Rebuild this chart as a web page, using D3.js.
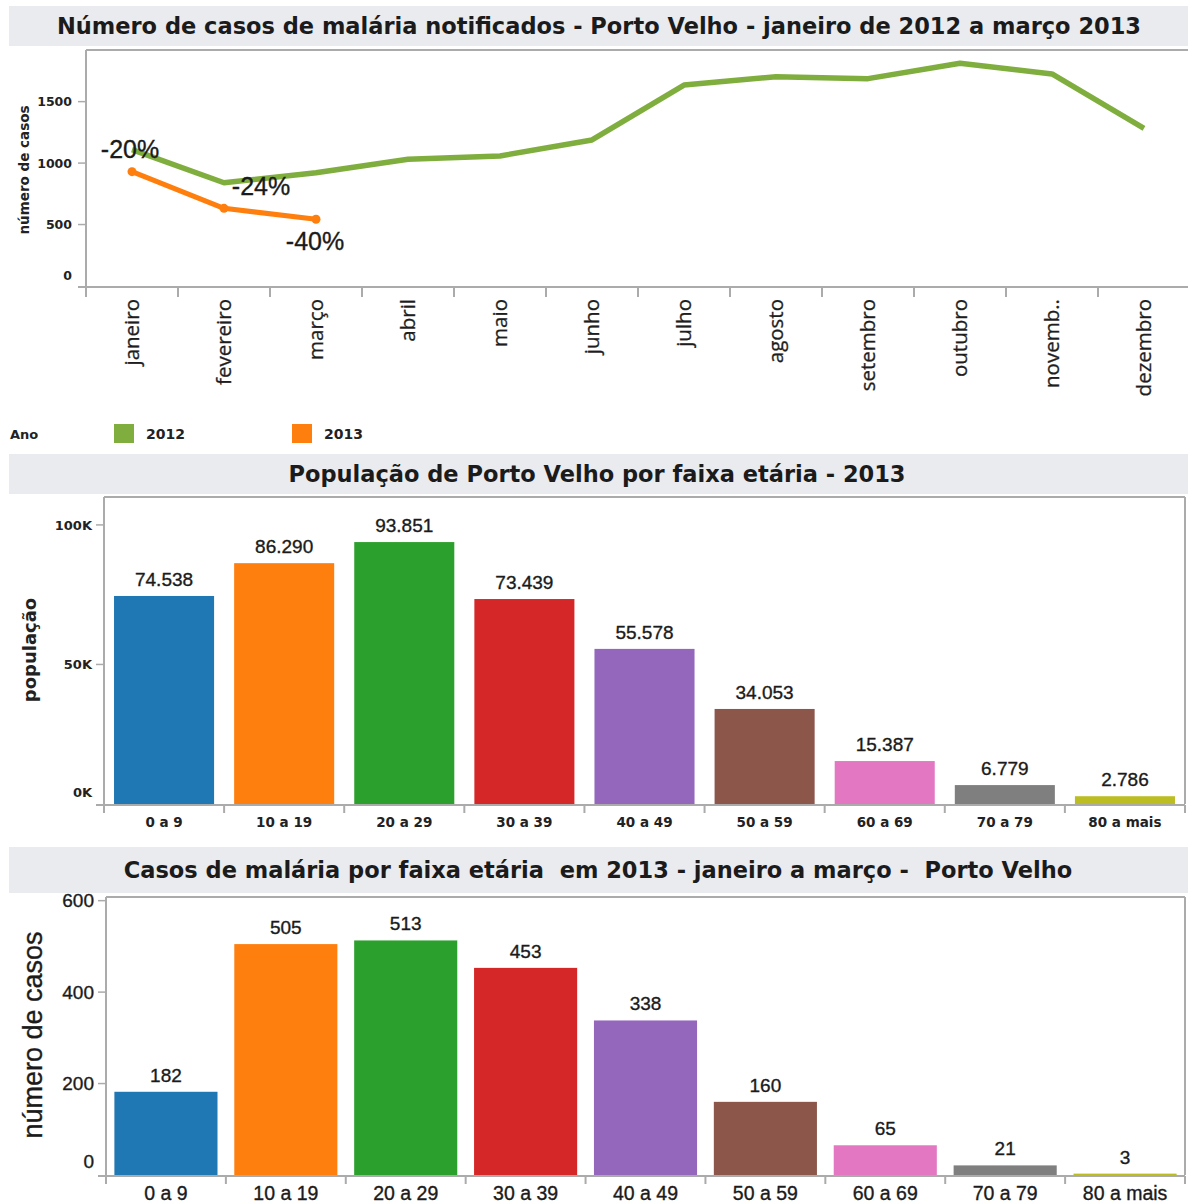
<!DOCTYPE html>
<html lang="pt">
<head>
<meta charset="utf-8">
<script src="https://cdn.jsdelivr.net/npm/d3@7"></script>
<style>
  html, body { margin: 0; padding: 0; background: #fff; }
  svg { display: block; }
  .title { font-family: "DejaVu Sans", sans-serif; font-weight: 700; font-size: 22.5px; fill: #1b1b1b; }
  .tickS { font-family: "DejaVu Sans", sans-serif; font-weight: 700; fill: #222; }
  .num { font-family: "Liberation Sans", Arial, sans-serif; fill: #1b1b1b; stroke: #1b1b1b; stroke-width: 0.35px; }
</style>
</head>
<body>
<svg id="chart" width="1188" height="1204"></svg>
<script>
// Monthly notified malaria cases, Porto Velho
const months = ["janeiro", "fevereiro", "março", "abril", "maio", "junho",
                "julho", "agosto", "setembro", "outubro", "novemb..", "dezembro"];
const cases2012 = [1110, 840, 922, 1031, 1058, 1188, 1635, 1703, 1687, 1812, 1725, 1283];
const cases2013 = [930, 632, 543];
const changeLabels = ["-20%", "-24%", "-40%"];
const caseTicks = [0, 500, 1000, 1500];
const years = ["2012", "2013"];

// Age groups
const ageGroups = ["0 a 9", "10 a 19", "20 a 29", "30 a 39", "40 a 49",
                   "50 a 59", "60 a 69", "70 a 79", "80 a mais"];
const population = [74538, 86290, 93851, 73439, 55578, 34053, 15387, 6779, 2786];
const popTicks = [0, 50000, 100000];
const ageCases = [182, 505, 513, 453, 338, 160, 65, 21, 3];
const ageCaseTicks = [0, 200, 400, 600];

const yearColor = d3.scaleOrdinal(years, ["#7fae3e", "#ff7f0e"]);
const ageColor = d3.scaleOrdinal(ageGroups, d3.schemeCategory10);
const ptBR = d3.formatLocale({ decimal: ",", thousands: ".", grouping: [3], currency: ["R$", ""] });
const fmtThousands = ptBR.format(",d");

const svg = d3.select("#chart");
svg.append("rect").attr("width", 1188).attr("height", 1204).attr("fill", "#fff");

const FRAME = "#ababab";

function titleBand(y, h, text, cx) {
  svg.append("rect").attr("x", 9).attr("y", y).attr("width", 1179).attr("height", h).attr("fill", "#e9ebef");
  svg.append("text").attr("class", "title")
    .attr("x", cx).attr("y", y + h / 2).attr("dy", "0.36em")
    .attr("text-anchor", "middle").attr("xml:space", "preserve").text(text);
}

// ---------- Line chart: cases by month ----------
titleBand(6, 40, "Número de casos de malária notificados - Porto Velho - janeiro de 2012 a março 2013", 599);

const xM = d3.scaleBand().domain(months).range([86, 1190]).padding(0);
const yM = d3.scaleLinear().domain([0, 1920]).range([286, 50]);
const mx = m => xM(m) + xM.bandwidth() / 2;

const g1 = svg.append("g");
g1.append("line").attr("x1", 86).attr("x2", 1188).attr("y1", 50).attr("y2", 50).attr("stroke", FRAME).attr("stroke-width", 2);
g1.append("line").attr("x1", 86).attr("x2", 86).attr("y1", 50).attr("y2", 287).attr("stroke", FRAME).attr("stroke-width", 2);
g1.append("line").attr("x1", 78).attr("x2", 1188).attr("y1", 287).attr("y2", 287).attr("stroke", FRAME).attr("stroke-width", 2);

// month boundary ticks
g1.selectAll(".mtick").data(months).join("line")
  .attr("x1", d => xM(d)).attr("x2", d => xM(d))
  .attr("y1", 287).attr("y2", 297).attr("stroke", FRAME).attr("stroke-width", 2);

// y ticks
g1.selectAll(".ytick").data(caseTicks.filter(t => t > 0)).join("line")
  .attr("x1", 78).attr("x2", 86).attr("y1", d => yM(d)).attr("y2", d => yM(d))
  .attr("stroke", FRAME).attr("stroke-width", 1.5);
g1.selectAll(".ylab").data(caseTicks).join("text")
  .attr("class", "tickS").attr("font-size", 12.5)
  .attr("x", 72).attr("y", d => d === 0 ? yM(d) - 11 : yM(d)).attr("dy", "0.36em")
  .attr("text-anchor", "end").text(d => d);

g1.append("text").attr("class", "tickS").attr("font-size", 13.5)
  .attr("transform", "translate(24,170) rotate(-90)").attr("text-anchor", "middle")
  .attr("dy", "0.36em").text("número de casos");

// month labels
g1.selectAll(".mlab").data(months).join("text")
  .attr("font-family", "'Open Sans', sans-serif").attr("font-size", 20.5).attr("fill", "#1e1e1e")
  .attr("stroke", "#1e1e1e").attr("stroke-width", 0.3)
  .attr("transform", d => `translate(${mx(d)},299) rotate(-90)`)
  .attr("text-anchor", "end").attr("dy", "0.36em").text(d => d);

const line = d3.line().x(d => mx(d.m)).y(d => yM(d.v));
const s2012 = cases2012.map((v, i) => ({ m: months[i], v }));
const s2013 = cases2013.map((v, i) => ({ m: months[i], v }));

g1.append("path").datum(s2012).attr("d", line).attr("fill", "none")
  .attr("stroke", yearColor("2012")).attr("stroke-width", 5.5).attr("stroke-linejoin", "round");
g1.append("path").datum(s2013).attr("d", line).attr("fill", "none")
  .attr("stroke", yearColor("2013")).attr("stroke-width", 5).attr("stroke-linejoin", "round");
g1.selectAll(".dot").data(s2013).join("circle")
  .attr("cx", d => mx(d.m)).attr("cy", d => yM(d.v)).attr("r", 4.5).attr("fill", yearColor("2013"));

// year-over-year change labels beside the 2013 points
const changeOffsets = [[-2, -23], [37, -22], [-1, 22]];
g1.selectAll(".chg").data(s2013).join("text")
  .attr("class", "num").attr("font-size", 25)
  .attr("x", (d, i) => mx(d.m) + changeOffsets[i][0])
  .attr("y", (d, i) => yM(d.v) + changeOffsets[i][1]).attr("dy", "0.36em")
  .attr("text-anchor", "middle").text((d, i) => changeLabels[i]);

// legend
const lg = svg.append("g");
lg.append("text").attr("class", "tickS").attr("font-size", 13).attr("x", 10).attr("y", 434).attr("dy", "0.36em").text("Ano");
const legendX = [114, 292];
years.forEach((yr, i) => {
  lg.append("rect").attr("x", legendX[i]).attr("y", 424).attr("width", 20).attr("height", 19).attr("fill", yearColor(yr));
  lg.append("text").attr("class", "tickS").attr("font-size", 14).attr("x", legendX[i] + 32).attr("y", 434)
    .attr("dy", "0.36em").text(yr);
});

// ---------- Bar charts ----------
function barChart(opt) {
  const g = svg.append("g");
  const x = d3.scaleBand().domain(ageGroups).range([opt.left, opt.right])
    .paddingInner(opt.pad).paddingOuter(opt.pad / 2);
  const y = d3.scaleLinear().domain([0, opt.max]).range([opt.bottom, opt.top]);

  g.append("line").attr("x1", opt.left).attr("x2", opt.right).attr("y1", opt.top).attr("y2", opt.top).attr("stroke", FRAME).attr("stroke-width", 2);
  g.append("line").attr("x1", opt.left).attr("x2", opt.left).attr("y1", opt.top).attr("y2", opt.bottom).attr("stroke", FRAME).attr("stroke-width", 2);
  g.append("line").attr("x1", opt.right).attr("x2", opt.right).attr("y1", opt.top).attr("y2", opt.bottom).attr("stroke", FRAME).attr("stroke-width", 2);

  g.selectAll(".bar").data(opt.values).join("rect")
    .attr("x", (d, i) => x(ageGroups[i])).attr("width", x.bandwidth())
    .attr("y", d => y(d)).attr("height", d => y(0) - y(d))
    .attr("fill", (d, i) => ageColor(ageGroups[i]));

  g.append("line").attr("x1", opt.left - 8).attr("x2", opt.right).attr("y1", opt.bottom + 1).attr("y2", opt.bottom + 1).attr("stroke", FRAME).attr("stroke-width", 2);

  const step = x.step();
  const bounds = ageGroups.map((a, i) => opt.left + i * step).concat([opt.right]);
  g.selectAll(".btick").data(bounds).join("line")
    .attr("x1", d => d).attr("x2", d => d).attr("y1", opt.bottom + 1).attr("y2", opt.bottom + 9)
    .attr("stroke", FRAME).attr("stroke-width", 2);

  g.selectAll(".ytick").data(opt.ticks.filter(t => t > 0)).join("line")
    .attr("x1", opt.left - 8).attr("x2", opt.left).attr("y1", d => y(d)).attr("y2", d => y(d))
    .attr("stroke", FRAME).attr("stroke-width", 1.5);
  g.selectAll(".ylab").data(opt.ticks).join("text")
    .attr("class", opt.tickClass).attr("font-size", opt.tickSize)
    .attr("x", opt.left - 12).attr("y", d => d === 0 ? y(d) - opt.zeroShift : y(d)).attr("dy", "0.36em")
    .attr("text-anchor", "end").text(opt.tickFmt);

  g.selectAll(".vlab").data(opt.values).join("text")
    .attr("class", "num").attr("font-size", opt.valueSize)
    .attr("x", (d, i) => x(ageGroups[i]) + x.bandwidth() / 2).attr("y", d => y(d) - 10)
    .attr("text-anchor", "middle").text(opt.valueFmt);

  g.selectAll(".xlab").data(ageGroups).join("text")
    .attr("class", opt.xClass).attr("font-size", opt.xSize)
    .attr("x", d => x(d) + x.bandwidth() / 2).attr("y", opt.xLabelY)
    .attr("text-anchor", "middle").text(d => d);

  g.append("text").attr("class", opt.yTitleClass).attr("font-size", opt.yTitleSize)
    .attr("font-weight", opt.yTitleWeight)
    .attr("transform", `translate(${opt.yTitleX},${opt.yTitleY}) rotate(-90)`)
    .attr("text-anchor", "middle").attr("dy", "0.36em").text(opt.yTitle);
}

titleBand(454, 40, "População de Porto Velho por faixa etária - 2013", 597);
barChart({
  values: population, max: 110000, ticks: popTicks,
  left: 104, right: 1185, top: 497, bottom: 804, pad: 0.167,
  tickClass: "tickS", tickSize: 13, zeroShift: 12, tickFmt: d => (d / 1000) + "K",
  valueSize: 19, valueFmt: d => fmtThousands(d),
  xClass: "tickS", xSize: 13.5, xLabelY: 827,
  yTitle: "população", yTitleClass: "tickS", yTitleSize: 18, yTitleWeight: 700, yTitleX: 30, yTitleY: 650
});

titleBand(847, 46, "Casos de malária por faixa etária  em 2013 - janeiro a março -  Porto Velho", 598);
barChart({
  values: ageCases, max: 608, ticks: ageCaseTicks,
  left: 106, right: 1185, top: 897, bottom: 1175, pad: 0.14,
  tickClass: "num", tickSize: 19, zeroShift: 14, tickFmt: d => d,
  valueSize: 19, valueFmt: d => d,
  xClass: "num", xSize: 19.5, xLabelY: 1200,
  yTitle: "número de casos", yTitleClass: "num", yTitleSize: 27, yTitleWeight: 400, yTitleX: 32, yTitleY: 1035
});
</script>
</body>
</html>
